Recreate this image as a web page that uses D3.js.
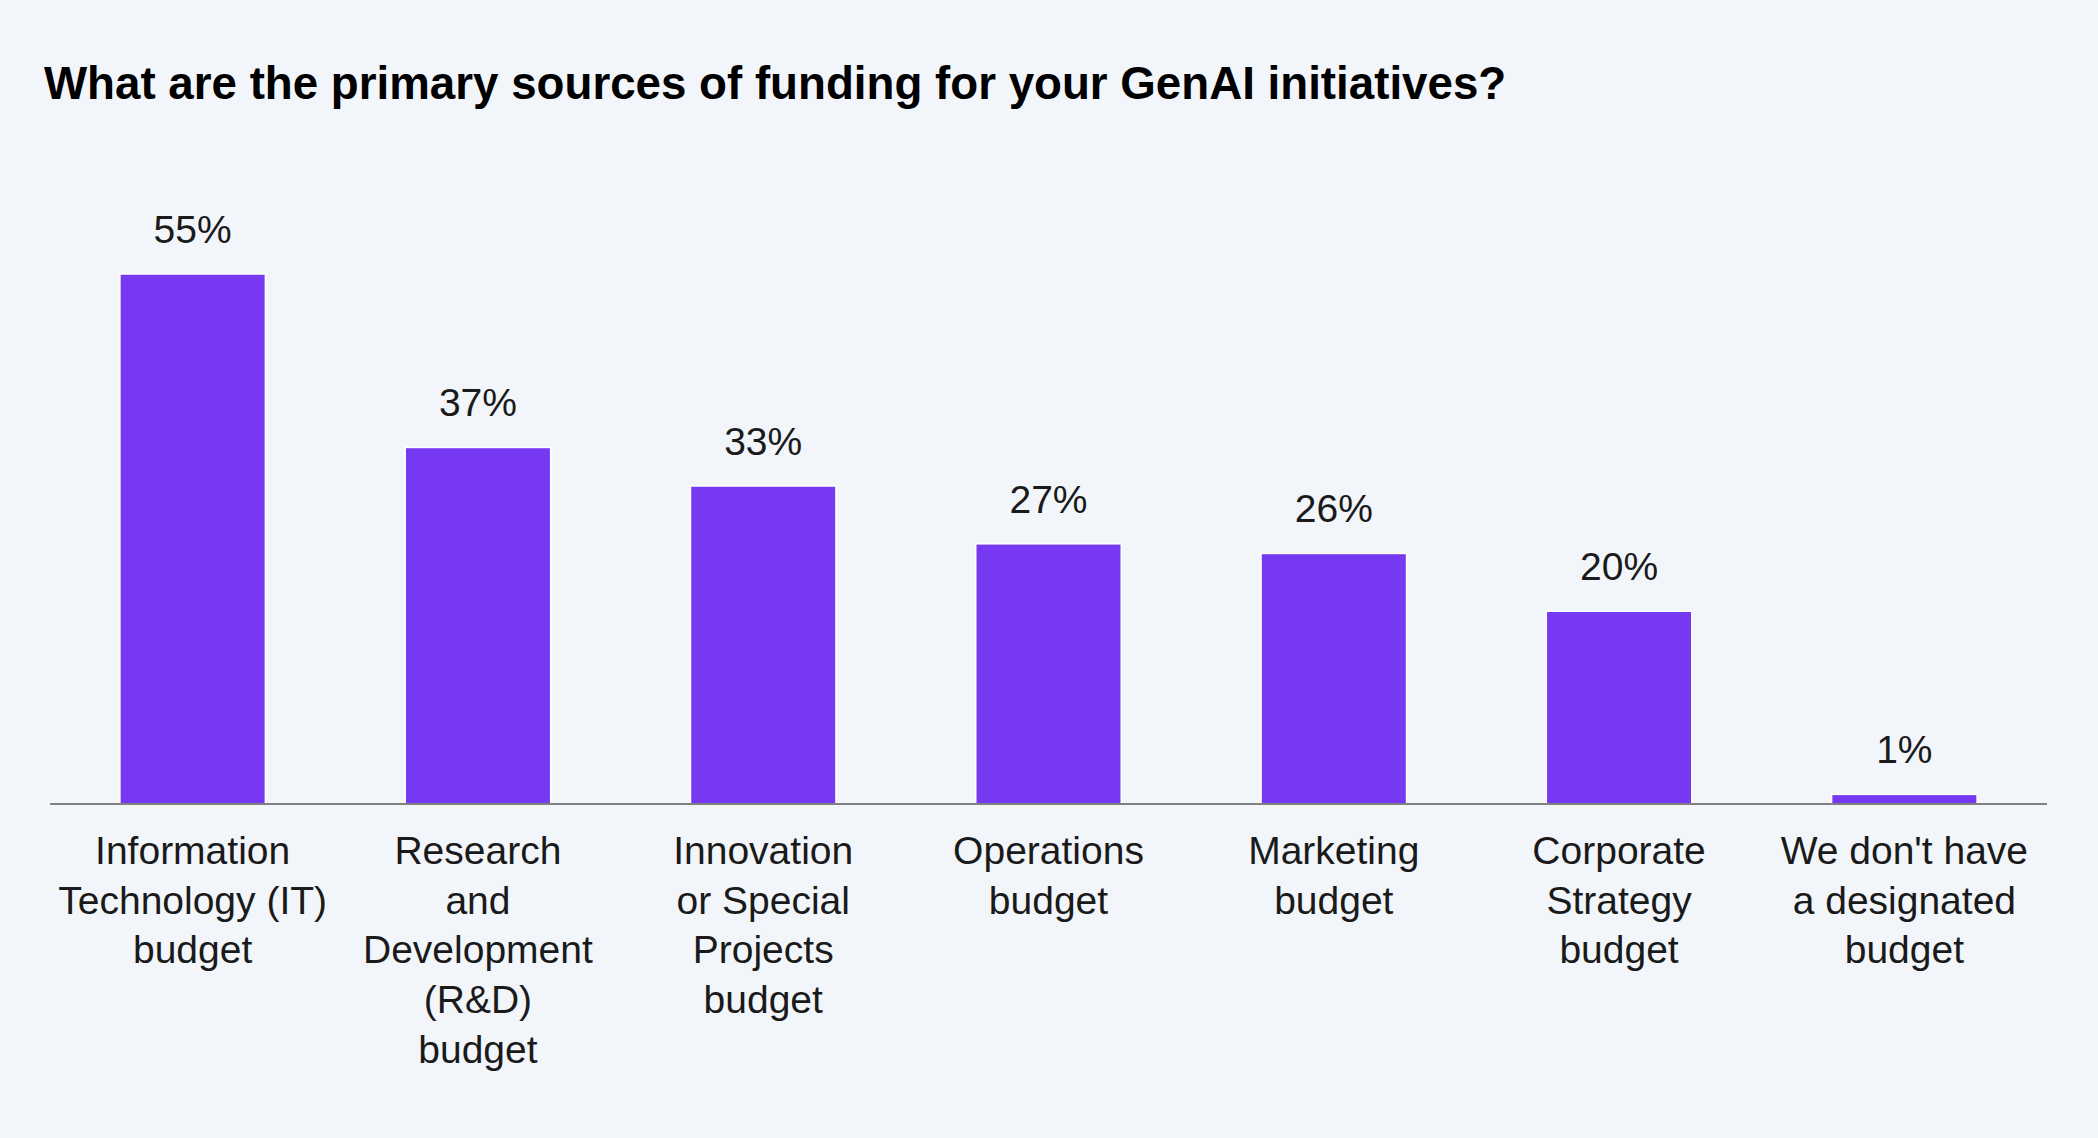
<!DOCTYPE html>
<html>
<head>
<meta charset="utf-8">
<script src="https://cdn.jsdelivr.net/npm/d3@7"></script>
<style>
  html, body { margin: 0; padding: 0; background: #f2f6fa; }
  svg { display: block; font-family: "Liberation Sans", Arial, sans-serif; }
</style>
</head>
<body>
<script>
// chart data
var categories = [
  "Information Technology (IT) budget",
  "Research and Development (R&D) budget",
  "Innovation or Special Projects budget",
  "Operations budget",
  "Marketing budget",
  "Corporate Strategy budget",
  "We don't have a designated budget"
];
var labelLines = [
  ["Information", "Technology (IT)", "budget"],
  ["Research", "and", "Development", "(R&D)", "budget"],
  ["Innovation", "or Special", "Projects", "budget"],
  ["Operations", "budget"],
  ["Marketing", "budget"],
  ["Corporate", "Strategy", "budget"],
  ["We don't have", "a designated", "budget"]
];
var values = [55, 37, 33, 27, 26, 20, 1];
var title = "What are the primary sources of funding for your GenAI initiatives?";

var width = 2098, height = 1138;
var baseline = 804;

var svg = d3.select("body").append("svg")
    .attr("width", width)
    .attr("height", height);

svg.append("rect")
    .attr("width", width)
    .attr("height", height)
    .attr("fill", "#f2f6fa");

svg.append("text")
    .attr("x", 44)
    .attr("y", 99)
    .attr("font-size", 45.7)
    .attr("font-weight", "bold")
    .attr("fill", "#000")
    .text(title);

var x = d3.scaleBand()
    .domain(categories)
    .range([50, 2047])
    .paddingInner(0.49)
    .paddingOuter(0.245);

// 55% reaches y=274
var y = d3.scaleLinear()
    .domain([0, 55])
    .range([baseline, 274]);

var bars = svg.selectAll(".bar")
    .data(values)
    .enter().append("g")
    .attr("class", "bar");

bars.append("rect")
    .attr("x", function(d, i) { return x(categories[i]); })
    .attr("y", function(d) { return y(d); })
    .attr("width", x.bandwidth())
    .attr("height", function(d) { return baseline - y(d); })
    .attr("fill", "#7639f1")
    .attr("stroke", "#ffffff")
    .attr("stroke-width", 1.5);

bars.append("text")
    .attr("x", function(d, i) { return x(categories[i]) + x.bandwidth() / 2; })
    .attr("y", function(d) { return y(d) - 31; })
    .attr("text-anchor", "middle")
    .attr("font-size", 39)
    .attr("fill", "#1a1a1a")
    .text(function(d) { return d + "%"; });

// axis line
svg.append("line")
    .attr("x1", 50)
    .attr("x2", 2047)
    .attr("y1", baseline)
    .attr("y2", baseline)
    .attr("stroke", "#808080")
    .attr("stroke-width", 2);

// category labels
var labels = svg.selectAll(".cat")
    .data(categories)
    .enter().append("text")
    .attr("class", "cat")
    .attr("text-anchor", "middle")
    .attr("font-size", 39)
    .attr("fill", "#1a1a1a");

labels.each(function(d, i) {
  var t = d3.select(this);
  var cx = x(d) + x.bandwidth() / 2;
  labelLines[i].forEach(function(line, j) {
    t.append("tspan")
      .attr("x", cx)
      .attr("y", 864 + j * 49.7)
      .text(line);
  });
});
</script>
</body>
</html>
